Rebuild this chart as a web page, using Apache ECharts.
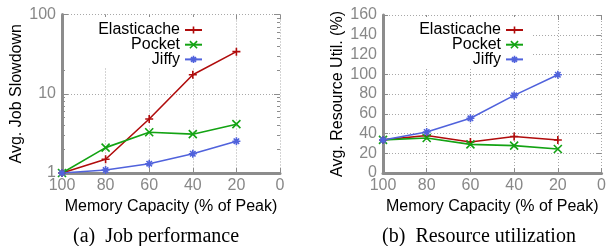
<!DOCTYPE html>
<html>
<head>
<meta charset="utf-8">
<script src="https://cdn.jsdelivr.net/npm/echarts@6/dist/echarts.min.js"></script>
<style>
  html, body { margin: 0; padding: 0; background: #fff; }
  #chart { width: 609px; height: 246px; }
</style>
</head>
<body>
<div id="chart"></div>
<script>
// values
const capacity = [100, 80, 60, 40, 20];
const seriesNames = ["Elasticache", "Pocket", "Jiffy"];

const slowElasticache = [1, 1.49, 4.8, 17.4, 34];
const slowPocket = [1, 2.09, 3.27, 3.09, 4.13];
const slowJiffy = [1, 1.09, 1.31, 1.75, 2.52];

const utilElasticache = [33.5, 38, 31.4, 37, 33.4];
const utilPocket = [33.5, 35.4, 29, 27.7, 24.3];
const utilJiffy = [33.5, 41.5, 55.4, 78.6, 99.5];

const logMajorTicks = [1, 10, 100];
const logMinorTicks = [2, 3, 4, 5, 6, 7, 8, 9, 20, 30, 40, 50, 60, 70, 80, 90];

const colors = ["#b00c0c", "#13a313", "#5062dc"];
const symbols = [
  "path://M0,5L10,5M5,0L5,10",
  "path://M0,0L10,10M10,0L0,10",
  "path://M0,5L10,5M5,0L5,10M1.6,1.6L8.4,8.4M8.4,1.6L1.6,8.4"
];

const AXIS_GREY = "#8c8c8c";
const GRID_GREY = "#a8a8a8";
const FONT = "Liberation Sans, Arial, sans-serif";

function pairs(ys) {
  return capacity.map((c, i) => [c, ys[i]]);
}

function xAxisPair(gridIndex) {
  const base = {
    gridIndex: gridIndex,
    type: "value",
    min: 0,
    max: 100,
    interval: 20,
    inverse: true
  };
  return [
    Object.assign({}, base, {
      position: "bottom",
      axisLine: { onZero: false, lineStyle: { color: AXIS_GREY, width: 3 } },
      axisTick: { inside: true, length: 5, lineStyle: { color: AXIS_GREY } },
      axisLabel: { color: "#888", fontSize: 16, fontFamily: FONT, margin: 5 },
      splitLine: { show: true, lineStyle: { color: GRID_GREY, type: [1, 2] } },
      name: "Memory Capacity (% of Peak)",
      nameLocation: "middle",
      nameGap: 19,
      nameTextStyle: { color: "#000", fontSize: 16, fontFamily: FONT }
    }),
    Object.assign({}, base, {
      position: "top",
      axisLine: { show: false, onZero: false },
      axisTick: { inside: true, length: 5, lineStyle: { color: AXIS_GREY } },
      axisLabel: { show: false },
      splitLine: { show: false }
    })
  ];
}

function tickOnly(gridIndex, type, position, extra) {
  return Object.assign({
    gridIndex: gridIndex,
    type: type,
    position: position,
    axisLine: { show: false, onZero: false },
    axisLabel: { show: false },
    splitLine: { show: false }
  }, extra);
}

function makeSeries(name, i, data, xi, yi) {
  return {
    name: name,
    type: "line",
    xAxisIndex: xi,
    yAxisIndex: yi,
    data: data,
    symbol: symbols[i],
    symbolSize: 8,
    lineStyle: { color: colors[i], width: 1.6 },
    itemStyle: { color: colors[i], borderColor: colors[i], borderWidth: 1.6 },
    emphasis: { disabled: true },
    z: 3
  };
}

function legendAt(right, top) {
  return {
    orient: "vertical",
    align: "right",
    right: right,
    top: top,
    padding: 0,
    itemGap: -1.3,
    itemWidth: 17,
    itemHeight: 9,
    selectedMode: false,
    data: seriesNames,
    itemStyle: { borderWidth: 1.6 },
    textStyle: { color: "#000", fontSize: 16, fontFamily: FONT, lineHeight: 16 }
  };
}

const logRange = { min: 1, max: 100, logBase: 10 };

const option = {
  animation: false,
  backgroundColor: "#fff",
  grid: [
    { left: 62, top: 14.5, width: 218, height: 158.5 },
    { left: 383, top: 15, width: 220, height: 158 }
  ],
  xAxis: xAxisPair(0).concat(xAxisPair(1)),
  yAxis: [
    Object.assign({
      gridIndex: 0,
      type: "log",
      position: "left",
      axisLine: { onZero: false, lineStyle: { color: AXIS_GREY, width: 3 } },
      axisTick: { inside: true, length: 6, customValues: logMajorTicks, lineStyle: { color: AXIS_GREY } },
      axisLabel: { color: "#888", fontSize: 16, fontFamily: FONT, margin: 6, customValues: logMajorTicks },
      splitLine: { show: true, lineStyle: { color: GRID_GREY, type: [1, 2] } },
      name: "Avg. Job Slowdown",
      nameLocation: "middle",
      nameGap: 37,
      nameTextStyle: { color: "#000", fontSize: 16, fontFamily: FONT }
    }, logRange),
    tickOnly(0, "log", "left", Object.assign({
      axisTick: { inside: true, length: 3, customValues: logMinorTicks, lineStyle: { color: AXIS_GREY } }
    }, logRange)),
    tickOnly(0, "log", "right", Object.assign({
      axisTick: { inside: true, length: 6, customValues: logMajorTicks, lineStyle: { color: AXIS_GREY } }
    }, logRange)),
    tickOnly(0, "log", "right", Object.assign({
      axisTick: { inside: true, length: 3, customValues: logMinorTicks, lineStyle: { color: AXIS_GREY } }
    }, logRange)),
    {
      gridIndex: 1,
      type: "value",
      position: "left",
      min: 0,
      max: 160,
      interval: 20,
      axisLine: { onZero: false, lineStyle: { color: AXIS_GREY, width: 3 } },
      axisTick: { inside: true, length: 5, lineStyle: { color: AXIS_GREY } },
      axisLabel: { color: "#888", fontSize: 16, fontFamily: "Liberation Sans Narrow, " + FONT, margin: 6 },
      splitLine: { show: true, lineStyle: { color: GRID_GREY, type: [1, 2] } },
      name: "Avg. Resource Util. (%)",
      nameLocation: "middle",
      nameGap: 37,
      nameTextStyle: { color: "#000", fontSize: 16, fontFamily: FONT }
    },
    tickOnly(1, "value", "right", {
      min: 0,
      max: 160,
      interval: 20,
      axisTick: { inside: true, length: 5, lineStyle: { color: AXIS_GREY } }
    })
  ],
  legend: [legendAt(406, 22), legendAt(85, 22)],
  title: [
    {
      text: "(a)  Job performance",
      left: 156, top: 227, textAlign: "center", padding: 0,
      textStyle: { fontFamily: "Liberation Serif, Times New Roman, serif", fontSize: 20, fontWeight: "normal", color: "#000" }
    },
    {
      text: "(b)  Resource utilization",
      left: 479, top: 227, textAlign: "center", padding: 0,
      textStyle: { fontFamily: "Liberation Serif, Times New Roman, serif", fontSize: 20, fontWeight: "normal", color: "#000" }
    }
  ],
  // opaque key box that hides the grid behind the legend, as gnuplot does
  graphic: [
    { type: "rect", z: 1, shape: { x: 64, y: 17, width: 151, height: 51 }, style: { fill: "#fff" } },
    { type: "rect", z: 1, shape: { x: 385, y: 17, width: 148, height: 51 }, style: { fill: "#fff" } }
  ],
  series: [
    makeSeries(seriesNames[0], 0, pairs(slowElasticache), 0, 0),
    makeSeries(seriesNames[1], 1, pairs(slowPocket), 0, 0),
    makeSeries(seriesNames[2], 2, pairs(slowJiffy), 0, 0),
    makeSeries(seriesNames[0], 0, pairs(utilElasticache), 2, 4),
    makeSeries(seriesNames[1], 1, pairs(utilPocket), 2, 4),
    makeSeries(seriesNames[2], 2, pairs(utilJiffy), 2, 4)
  ]
};

const chart = echarts.init(document.getElementById("chart"), null, { renderer: "canvas" });
chart.setOption(option);
</script>
</body>
</html>
